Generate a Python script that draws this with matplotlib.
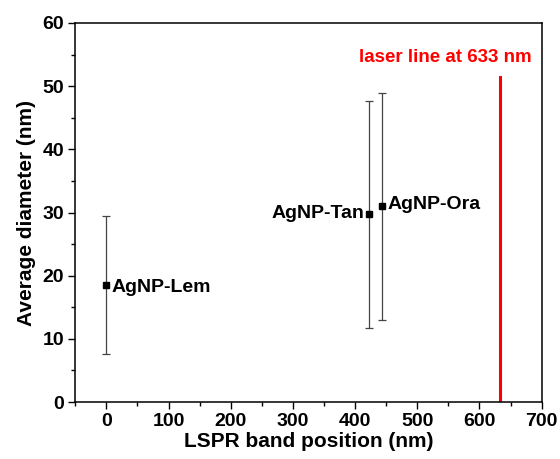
import numpy as np
import matplotlib.pyplot as plt
from matplotlib.ticker import MultipleLocator

plt.rcParams['font.family'] = ['Liberation Sans', 'DejaVu Sans']
plt.rcParams['font.weight'] = 'bold'

names = ['AgNP-Lem', 'AgNP-Tan', 'AgNP-Ora']
lspr = [0, 423, 444]
diam = [18.5, 29.8, 31.0]
err_low = [7.6, 11.8, 13.0]
err_high = [29.5, 47.7, 48.9]
laser_nm = 633
laser_top = 51.5

diam_a = np.array(diam)
yerr = [diam_a - np.array(err_low), np.array(err_high) - diam_a]

fig = plt.figure(figsize=(5.6, 4.59), dpi=100)
ax = fig.add_axes([0.1345, 0.124, 0.8327, 0.826])

ax.errorbar(lspr, diam, yerr=yerr, fmt='s', color='black', ms=5,
            ecolor='#444444', elinewidth=0.9, capsize=3.2, capthick=0.9)

ax.plot([laser_nm, laser_nm], [0, laser_top], color='red', lw=2.2)
ax.text(545, 54.5, 'laser line at 633 nm', color='red', fontsize=13.5,
        fontweight='bold', ha='center', va='center')

offsets = [(8, -0.4, 'left'), (-8, 0, 'right'), (8, 0.3, 'left')]
for n, x, y, (dx, dy, ha) in zip(names, lspr, diam, offsets):
    ax.text(x + dx, y + dy, n, fontsize=14, fontweight='bold', ha=ha, va='center')

ax.set_xlim(-50, 700)
ax.set_ylim(0, 60)
ax.xaxis.set_major_locator(MultipleLocator(100))
ax.xaxis.set_minor_locator(MultipleLocator(50))
ax.yaxis.set_major_locator(MultipleLocator(10))
ax.yaxis.set_minor_locator(MultipleLocator(5))
ax.tick_params(which='major', direction='out', length=5, width=1, labelsize=14, pad=3)
ax.tick_params(which='minor', direction='out', length=3, width=1)
for lab in ax.get_xticklabels() + ax.get_yticklabels():
    lab.set_fontweight('bold')
for s in ax.spines.values():
    s.set_linewidth(1.1)

ax.set_xlabel('LSPR band position (nm)', fontsize=15, fontweight='bold', labelpad=1)
ax.set_ylabel('Average diameter (nm)', fontsize=15, fontweight='bold', labelpad=5)

fig.savefig('out.png', dpi=100)
